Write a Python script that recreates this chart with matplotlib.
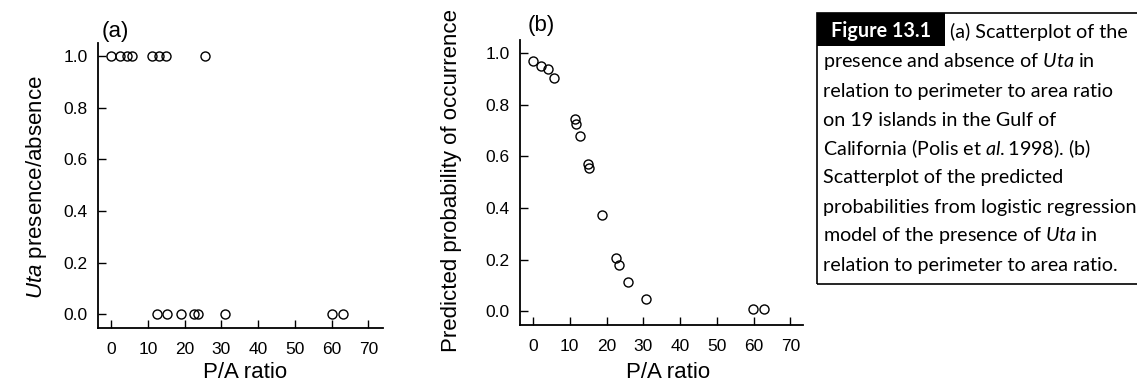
import numpy as np
import matplotlib
matplotlib.use("Agg")
import matplotlib.pyplot as plt

# data
presence_x = [0.0, 2.4, 4.3, 5.8, 11.1, 12.9, 15.0, 25.6]
absence_x = [12.5, 15.3, 18.9, 22.6, 23.5, 31.0, 60.2, 63.2]
pred_x = [0.0, 2.3, 4.0, 5.7, 11.4, 11.6, 12.8, 15.0, 15.2, 18.8, 22.6, 23.5,
          25.8, 30.7, 59.7, 62.8]
pred_p = [0.969, 0.953, 0.938, 0.906, 0.744, 0.725, 0.680, 0.570, 0.556, 0.373,
          0.207, 0.178, 0.114, 0.045, 0.007, 0.007]
x_ticks = [0, 10, 20, 30, 40, 50, 60, 70]
y_ticks = [0.0, 0.2, 0.4, 0.6, 0.8, 1.0]

caption = [
    r"presence and absence of $\mathit{Uta}$ in",
    "relation to perimeter to area ratio",
    "on 19 islands in the Gulf of",
    r"California (Polis et $\mathit{al.}$1998). (b)",
    "Scatterplot of the predicted",
    "probabilities from logistic regression",
    r"model of the presence of $\mathit{Uta}$ in",
    "relation to perimeter to area ratio.",
]

plt.rcParams["font.family"] = "Liberation Sans"
plt.rcParams["mathtext.fontset"] = "custom"
plt.rcParams["mathtext.rm"] = "Lato"
plt.rcParams["mathtext.it"] = "Lato:italic"
plt.rcParams["mathtext.sf"] = "Liberation Sans:italic"

W, H = 1137, 386
LABEL_FS = 16
TICK_FS = 12.5
CAP_FS = 14.2
fig = plt.figure(figsize=(W / 100, H / 100), dpi=100, facecolor="white")


def px(x0, y0, x1, y1):
    # pixel box (top-left origin) -> figure fraction rect
    return [x0 / W, 1 - y1 / H, (x1 - x0) / W, (y1 - y0) / H]


def style(ax, xlim):
    ax.set_xlim(*xlim)
    ax.set_ylim(-0.054, 1.052)
    ax.set_xticks(x_ticks)
    ax.set_yticks(y_ticks)
    ax.set_yticklabels([f"{v:.1f}" for v in y_ticks])
    for s in ("top", "right"):
        ax.spines[s].set_visible(False)
    for s in ("left", "bottom"):
        ax.spines[s].set_linewidth(1.3)
    ax.tick_params(direction="in", length=6, width=1.0, labelsize=TICK_FS)
    ax.tick_params(axis="x", pad=10)
    ax.tick_params(axis="y", pad=7)


axA = fig.add_axes(px(97.6, 43, 383, 328))
axA.plot(presence_x, [1.0] * len(presence_x), "o", mfc="none", mec="black", ms=6.5, mew=1.0)
axA.plot(absence_x, [0.0] * len(absence_x), "o", mfc="none", mec="black", ms=6.5, mew=1.0)
style(axA, (-3.7, 74))

axB = fig.add_axes(px(519.5, 40, 803, 325))
axB.plot(pred_x, pred_p, "o", mfc="none", mec="black", ms=6.5, mew=1.0)
style(axB, (-3.67, 73.4))

# axis labels / panel letters
fig.text(37 / W, 1 - 187 / H, r"$\mathsf{Uta}$ presence/absence", rotation=90,
         ha="center", va="center", fontsize=LABEL_FS)
fig.text(452 / W, 1 - 180 / H, "Predicted probability of occurrence", rotation=90,
         ha="center", va="center", fontsize=LABEL_FS)
fig.text(245 / W, 1 - 373 / H, "P/A ratio", ha="center", va="center", fontsize=LABEL_FS)
fig.text(668 / W, 1 - 373 / H, "P/A ratio", ha="center", va="center", fontsize=LABEL_FS)
fig.text(102 / W, 1 - 32 / H, "(a)", ha="left", va="center", fontsize=LABEL_FS)
fig.text(528 / W, 1 - 26 / H, "(b)", ha="left", va="center", fontsize=LABEL_FS)

# caption box
fig.add_artist(plt.Rectangle((817 / W, 1 - 284 / H), (W + 5 - 817) / W, (284 - 13) / H,
                             transform=fig.transFigure, fill=False, ec="black", lw=1.2))
fig.add_artist(plt.Rectangle((817 / W, 1 - 46 / H), (945 - 817) / W, (46 - 13) / H,
                             transform=fig.transFigure, fc="black", ec="black", lw=0))
fig.text(881 / W, 1 - 31 / H, "Figure 13.1", ha="center", va="center", color="white",
         fontsize=CAP_FS, fontweight="bold", family="Lato")
fig.text(950 / W, 1 - 32 / H, "(a) Scatterplot of the", ha="left", va="center",
         fontsize=CAP_FS, family="Lato")
for i, line in enumerate(caption):
    fig.text(823 / W, 1 - (62 + i * 29.0) / H, line, ha="left", va="center",
             fontsize=CAP_FS, family="Lato")

fig.savefig("out.png", dpi=100, facecolor="white")
